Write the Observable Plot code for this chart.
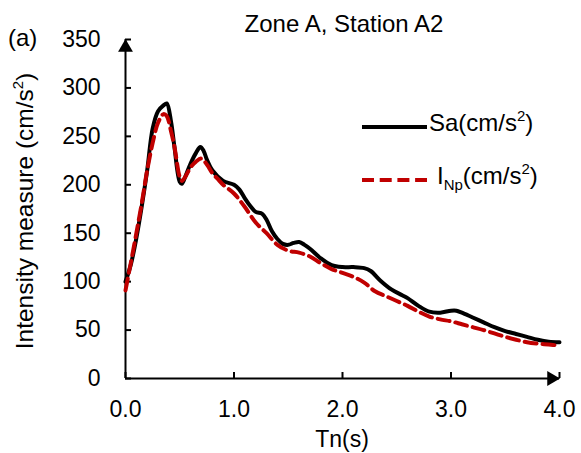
<!DOCTYPE html>
<html><head><meta charset="utf-8">
<script src="https://cdn.jsdelivr.net/npm/d3@7"></script>
<script src="https://cdn.jsdelivr.net/npm/@observablehq/plot@0.6"></script>
<style>
body{margin:0;background:#fff}
#chart{position:relative;width:581px;height:453px}
</style>
</head><body><div id="chart"></div>
<script>
// ---- data ----
const T_sa = [0,0.05,0.1,0.15,0.2,0.25,0.3,0.35,0.38,0.42,0.45,0.5,0.52,0.55,0.6,0.65,0.69,0.72,0.75,0.8,0.9,1.0,1.05,1.1,1.15,1.2,1.26,1.3,1.35,1.4,1.45,1.5,1.55,1.6,1.65,1.7,1.8,1.9,2.0,2.1,2.2,2.26,2.35,2.45,2.55,2.6,2.7,2.8,2.9,3.0,3.05,3.1,3.2,3.3,3.4,3.5,3.6,3.7,3.8,3.9,4.0];
const Sa   = [100,118,145,178,215,258,276,282,284,265,240,203,201,208,222,233,239,235,226,215,204,200,195,186,178,172,170,164,152,144,139,138,140,141,138,134,124,117,115,115,114,111,101,92,86,83,75,69,68,70,70,68,63,58,53,49,46,43,40,38,37.5];
const T_inp = [0,0.05,0.1,0.15,0.2,0.25,0.3,0.35,0.38,0.42,0.45,0.5,0.52,0.55,0.6,0.65,0.7,0.75,0.8,0.85,0.9,1.0,1.1,1.2,1.3,1.4,1.5,1.6,1.7,1.8,1.9,2.0,2.1,2.2,2.3,2.4,2.5,2.6,2.7,2.8,2.9,3.0,3.1,3.2,3.3,3.4,3.5,3.6,3.7,3.8,3.9,4.0];
const INp   = [91,120,150,181,215,243,264,273,271,255,240,208,204,208,218,224,227,221,212,206,200,191,177,161,150,138,132,130,126,119,113,109,105,99,90,85,80,75,69,64,61,59,56,53,50,46.5,43,40,37.5,36,35,34];
const xTicks = [0,1,2,3,4];
const yTicks = [0,50,100,150,200,250,300,350];
const xDomain = [0,4];
const yDomain = [0,350];
const titleText = "Zone A, Station A2";
const panelText = "(a)";
const xLabel = "Tn(s)";
const seriesNames = ["Sa", "I"];

const saRows = T_sa.map((t,i)=>({t, v: Sa[i]}));
const inpRows = T_inp.map((t,i)=>({t, v: INp[i]}));

const FONT = "'Liberation Sans', Arial, sans-serif";
const RED = "#c00000";

const plot = Plot.plot({
  width: 581, height: 453,
  marginLeft: 125, marginRight: 22, marginTop: 39, marginBottom: 75,
  x: {domain: xDomain},
  y: {domain: yDomain},
  style: {fontFamily: FONT, fontSize: "23px", color: "#000", background: "transparent", overflow: "visible"},
  marks: [
    Plot.axisY(yTicks, {tickSize: 6, dx: 6, tickPadding: 25, label: null, strokeWidth: 2, fontSize: 23}),
    Plot.axisX(xTicks, {tickSize: 6, dy: -6, tickPadding: 22, tickFormat: d => d.toFixed(1), label: null, strokeWidth: 2, fontSize: 23}),
    Plot.ruleX([xDomain[0]], {stroke: "#000", strokeWidth: 2}),
    Plot.ruleY([yDomain[0]], {stroke: "#000", strokeWidth: 2}),
    Plot.dot([{x: xDomain[0], y: yDomain[1]}], {x: "x", y: "y", symbol: "triangle", r: 5.5, fill: "#000", stroke: null, dy: 8}),
    Plot.dot([{x: xDomain[1], y: yDomain[0]}], {x: "x", y: "y", symbol: "triangle", r: 5.5, fill: "#000", stroke: null, rotate: 90, dx: -8}),
    Plot.line(saRows, {x: "t", y: "v", stroke: "#000", strokeWidth: 4, curve: "catmull-rom"}),
    Plot.line(inpRows, {x: "t", y: "v", stroke: RED, strokeWidth: 4, strokeDasharray: "12,6", curve: "catmull-rom"})
  ]
});

document.getElementById("chart").appendChild(plot);
const svg = d3.select(plot);

function txt(x, y, size, anchor){
  return svg.append("text").attr("x", x).attr("y", y)
    .attr("font-family", FONT).attr("font-size", size).attr("fill", "#000")
    .attr("text-anchor", anchor || "start");
}
// title and panel letter
txt(344, 32, 24, "middle").text(titleText);
txt(8, 46, 24).text(panelText);
// x label
txt(342, 447, 23, "middle").text(xLabel);
// y label
const yl = svg.append("text").attr("transform", "translate(33,211) rotate(-90)")
  .attr("font-family", FONT).attr("font-size", 24.5).attr("fill", "#000").attr("text-anchor", "middle");
yl.append("tspan").text("Intensity measure (cm/s");
yl.append("tspan").attr("font-size", 15).attr("dy", -10).text("2");
yl.append("tspan").attr("dy", 10).text(")");

// legend
svg.append("line").attr("x1", 362).attr("x2", 427).attr("y1", 127).attr("y2", 127)
  .attr("stroke", "#000").attr("stroke-width", 4);
const l1 = txt(429, 131, 24);
l1.append("tspan").text(seriesNames[0] + "(cm/s");
l1.append("tspan").attr("font-size", 15).attr("dy", -10).text("2");
l1.append("tspan").attr("dy", 10).text(")");

svg.append("line").attr("x1", 362).attr("x2", 427).attr("y1", 180).attr("y2", 180)
  .attr("stroke", RED).attr("stroke-width", 4).attr("stroke-dasharray", "12,5.7");
const l2 = txt(437, 184, 24);
l2.append("tspan").text(seriesNames[1]);
l2.append("tspan").attr("font-size", 15).attr("dy", 6).text("Np");
l2.append("tspan").attr("dy", -6).text("(cm/s");
l2.append("tspan").attr("font-size", 15).attr("dy", -10).text("2");
l2.append("tspan").attr("dy", 10).text(")");
</script>
</body></html>
